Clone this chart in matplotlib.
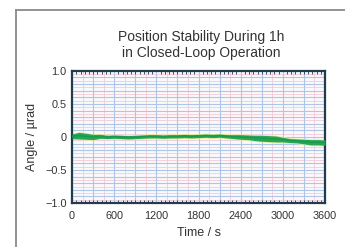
import matplotlib
matplotlib.use("Agg")
import matplotlib.pyplot as plt
from matplotlib.ticker import MultipleLocator
from matplotlib.lines import Line2D

plt.rcParams['font.family'] = ['Liberation Sans', 'DejaVu Sans']

title = "Position Stability During 1h\nin Closed-Loop Operation"
xlabel = "Time / s"
ylabel = "Angle / µrad"
xticks = [0, 600, 1200, 1800, 2400, 3000, 3600]
yticks = [1.0, 0.5, 0.0, -0.5, -1.0]
yticklabels = ["1.0", "0.5", "0", "\u22120.5", "\u22121.0"]

time_s = [0, 100, 200, 300, 400, 500, 600, 700, 800, 900, 1000, 1100, 1200,
          1300, 1400, 1500, 1600, 1700, 1800, 1900, 2000, 2100, 2200, 2300,
          2400, 2500, 2600, 2700, 2800, 2900, 3000, 3100, 3200, 3300, 3400,
          3500, 3600]
angle_center = [0.01, 0.02, 0.01, 0.0, 0.01, 0.0, 0.005, 0.0, -0.005, 0.0,
                0.005, 0.01, 0.01, 0.005, 0.01, 0.01, 0.015, 0.01, 0.015, 0.02,
                0.015, 0.02, 0.01, 0.005, 0.0, -0.005, -0.015, -0.02, -0.025,
                -0.03, -0.04, -0.055, -0.06, -0.07, -0.08, -0.08, -0.085]
angle_spread = [0.035, 0.05, 0.045, 0.04, 0.03, 0.025, 0.025, 0.025, 0.025,
                0.025, 0.025, 0.025, 0.025, 0.025, 0.025, 0.025, 0.025, 0.025,
                0.025, 0.025, 0.025, 0.025, 0.025, 0.03, 0.035, 0.035, 0.04,
                0.045, 0.045, 0.045, 0.035, 0.03, 0.03, 0.035, 0.04, 0.04, 0.04]

lower = [c - s for c, s in zip(angle_center, angle_spread)]
upper = [c + s for c, s in zip(angle_center, angle_spread)]

fig = plt.figure(figsize=(3.45, 2.47), dpi=100)
ax = fig.add_axes([0.209, 0.178, 0.733, 0.535])
ax.set_facecolor('#fbf8fb')

ax.fill_between(time_s, [l - 0.012 for l in lower], [u + 0.012 for u in upper],
                color='#e6ee9c', lw=0, zorder=2)
ax.fill_between(time_s, lower, upper, color='#27a657', lw=0, zorder=3)
ax.plot(time_s, angle_center, color='#179a4b', lw=1.0, zorder=4)

ax.set_xlim(0, 3600)
ax.set_ylim(-1.0, 1.0)
ax.set_xticks(xticks)
ax.set_yticks(yticks)
ax.set_yticklabels(yticklabels)

# grid: blue major every 300 s / 0.1, pink in between
for x in range(150, 3600, 300):
    ax.axvline(x, color='#f3cbd8', lw=0.6, zorder=0)
for x in range(300, 3600, 300):
    ax.axvline(x, color='#adc6e8', lw=0.8, zorder=1)
for i in range(-19, 20, 2):
    ax.axhline(i * 0.05, color='#f3cbd8', lw=0.6, zorder=0)
for i in range(-9, 10):
    ax.axhline(i * 0.1, color='#adc6e8', lw=0.8, zorder=1)

for s in ax.spines.values():
    s.set_color('#1f3d4d')
    s.set_linewidth(1.6)

ax.tick_params(axis='both', which='major', length=0, labelsize=7.8,
               colors='#333333')
ax.tick_params(axis='x', which='major', pad=6)
ax.tick_params(axis='y', which='major', pad=4)
ax.xaxis.set_minor_locator(MultipleLocator(60))
ax.tick_params(axis='x', which='minor', direction='in', length=2,
               width=0.6, color='#1f3d4d', top=True)
ax.tick_params(axis='y', which='minor', length=0)

ax.set_xlabel(xlabel, fontsize=9, color='#333333', labelpad=4)
ax.set_ylabel(ylabel, fontsize=9, color='#333333', labelpad=5)
fig.text(0.582, 0.878, title, ha='center', va='top', fontsize=10,
         color='#333333', linespacing=1.2)

# outer frame lines (left and top)
fig.add_artist(Line2D([0.045, 0.045], [0.0, 0.96], transform=fig.transFigure,
                      color='#8a8a8a', lw=1.3))
fig.add_artist(Line2D([0.045, 1.0], [0.96, 0.96], transform=fig.transFigure,
                      color='#8a8a8a', lw=1.3))

fig.savefig("out.png", dpi=100)
